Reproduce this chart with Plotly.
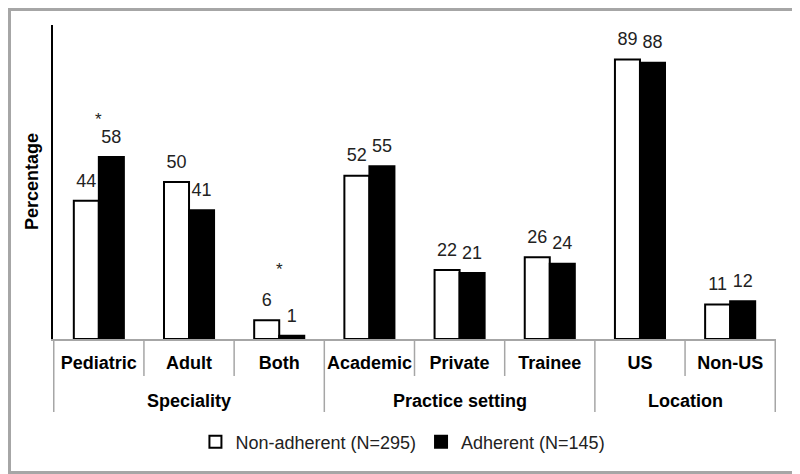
import plotly.graph_objects as go

# ---- data ----
groups = ["Speciality"] * 3 + ["Practice setting"] * 3 + ["Location"] * 2
categories = ["Pediatric", "Adult", "Both", "Academic", "Private", "Trainee", "US", "Non-US"]
non_adherent = [44, 50, 6, 52, 22, 26, 89, 11]
adherent = [58, 41, 1, 55, 21, 24, 88, 12]
# significance markers: category and height (%) where the star sits
star_categories = ["Pediatric", "Both"]
star_heights = [70, 22]
series_names = ["Non-adherent (N=295)", "Adherent (N=145)"]

# page body has an 8px margin, so the figure is drawn 8px smaller
W, H = 792, 466
ML, MR, MT, MB = 45, 24, 17, 135
FONT = "Liberation Sans, Arial, sans-serif"
GRAY = "#a6a6a6"
FS = 18
pw = W - ML - MR
ph = H - MT - MB

fig = go.Figure()
fig.add_trace(go.Bar(
    x=categories, y=non_adherent, name=series_names[0],
    marker=dict(color="white", line=dict(color="black", width=2)),
    hoverinfo="y",
))
fig.add_trace(go.Bar(
    x=categories, y=adherent, name=series_names[1],
    marker=dict(color="black", line=dict(color="black", width=2)),
    hoverinfo="y",
))
# value labels, grouped like the bars
for vals in (non_adherent, adherent):
    fig.add_trace(go.Scatter(
        x=categories, y=vals, mode="markers+text",
        text=[str(v) for v in vals], textposition="top center",
        marker=dict(size=14, opacity=0), showlegend=False, hoverinfo="skip",
        textfont=dict(size=FS, color="#222"), cliponaxis=False,
    ))

for cat, h in zip(star_categories, star_heights):
    idx = categories.index(cat)
    fig.add_annotation(x=idx, y=h, xref="x", yref="y", text="*", showarrow=False,
                       font=dict(size=17, color="#222"))

# group labels and dividers
group_names = list(dict.fromkeys(groups))
for g in group_names:
    idxs = [i for i, gg in enumerate(groups) if gg == g]
    fig.add_annotation(x=(idxs[0] + idxs[-1]) / 2, y=-(401 - 339) / ph, xref="x", yref="paper",
                       text=f"<b>{g}</b>", showarrow=False, xanchor="center", yanchor="middle",
                       font=dict(size=FS, color="black"))
    fig.add_shape(type="line", xref="x", yref="paper", x0=idxs[0] - 0.5, x1=idxs[0] - 0.5,
                  y0=0, y1=-(412 - 339) / ph, line=dict(color=GRAY, width=1.5))
fig.add_shape(type="line", xref="x", yref="paper", x0=len(categories) - 0.5, x1=len(categories) - 0.5,
              y0=0, y1=-(412 - 339) / ph, line=dict(color=GRAY, width=1.5))
for i in range(len(categories) - 1):
    if groups[i] == groups[i + 1]:
        fig.add_shape(type="line", xref="x", yref="paper", x0=i + 0.5, x1=i + 0.5,
                      y0=0, y1=-(376 - 339) / ph, line=dict(color=GRAY, width=1.5))

fig.add_annotation(x=-(ML - 24) / pw, y=0.5, xref="paper", yref="paper",
                   xanchor="center", yanchor="middle",
                   text="<b>Percentage</b>", textangle=-90, showarrow=False,
                   font=dict(size=FS, color="black"))

# outer frame
fig.add_shape(type="rect", xref="paper", yref="paper",
              x0=-(ML - 1.5) / pw, x1=1 + (MR - 1.5) / pw,
              y0=-(MB - 1.5) / ph, y1=1 + (MT - 1.5) / ph,
              line=dict(color=GRAY, width=3), layer="below")

fig.update_layout(
    width=W, height=H, margin=dict(l=ML, r=MR, t=MT, b=MB),
    paper_bgcolor="white", plot_bgcolor="white",
    font=dict(family=FONT, size=FS, color="black"),
    barmode="group", bargap=0.445, bargroupgap=0,
    scattermode="group", scattergap=0.445,
    showlegend=True,
    legend=dict(orientation="h", x=0.484, xanchor="center", y=-0.328, yanchor="middle",
                font=dict(size=FS, color="#222"), itemwidth=30, tracegroupgap=0),
    xaxis=dict(type="category", showline=True, linecolor=GRAY, linewidth=1.5,
               ticks="", ticklabelstandoff=7,
               tickfont=dict(family=FONT, size=FS, color="black", weight="bold"),
               showgrid=False, automargin=False),
    yaxis=dict(range=[0, 100], showline=True, linecolor="black", linewidth=1.5,
               showticklabels=False, ticks="", showgrid=False, zeroline=False),
)

fig.write_html("out.html")
